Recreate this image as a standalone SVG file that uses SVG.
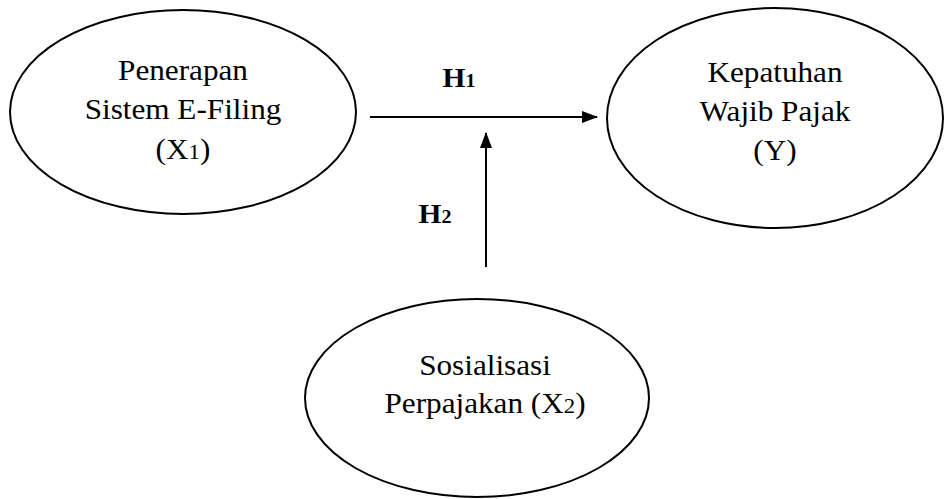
<svg xmlns="http://www.w3.org/2000/svg" width="945" height="499" viewBox="0 0 945 499">
<style>
.node{fill:#fff;stroke:#000;stroke-width:2}
.t{font-family:"Liberation Serif","Times New Roman",serif;font-size:30px;fill:#000;text-anchor:middle}
.s{font-size:22px}
.h{font-family:"Liberation Serif","Times New Roman",serif;font-size:28px;font-weight:bold;fill:#000;text-anchor:middle}
.hs{font-size:19px}
.c{stroke:#000;stroke-width:2;fill:none}
</style>
<defs>
<marker id="arr" markerWidth="16" markerHeight="12" refX="15" refY="6" orient="auto" markerUnits="userSpaceOnUse">
<path d="M0,0 L16,6 L0,12 Z" fill="#000"/>
</marker>
</defs>
<rect width="945" height="499" fill="#fff"/>
<g id="connectors">
<line class="c" x1="370" y1="117" x2="597" y2="117" marker-end="url(#arr)"/>
<line class="c" x1="486" y1="267" x2="486" y2="133" marker-end="url(#arr)"/>
<g transform="translate(459,0) scale(1.05,1)"><text class="h" x="0" y="87">H<tspan class="hs">1</tspan></text></g>
<g transform="translate(435,0) scale(1.05,1)"><text class="h" x="0" y="223">H<tspan class="hs">2</tspan></text></g>
</g>
<g id="x1">
<ellipse class="node" cx="183" cy="112" rx="173" ry="102"/>
<g transform="translate(183,0) scale(1.04,1)">
<text class="t" x="0" y="80">Penerapan</text>
<text class="t" x="0" y="119">Sistem E-Filing</text>
<text class="t" x="0" y="159">(X<tspan class="s">1</tspan>)</text>
</g>
</g>
<g id="y">
<ellipse class="node" cx="775" cy="118" rx="168" ry="110"/>
<g transform="translate(775,0) scale(1.04,1)">
<text class="t" x="0" y="82">Kepatuhan</text>
<text class="t" x="0" y="121">Wajib Pajak</text>
<text class="t" x="0" y="160">(Y)</text>
</g>
</g>
<g id="x2">
<ellipse class="node" cx="477" cy="398" rx="172" ry="99"/>
<g transform="translate(485,0) scale(1.04,1)">
<text class="t" x="0" y="375">Sosialisasi</text>
<text class="t" x="0" y="413">Perpajakan (X<tspan class="s">2</tspan>)</text>
</g>
</g>
</svg>
